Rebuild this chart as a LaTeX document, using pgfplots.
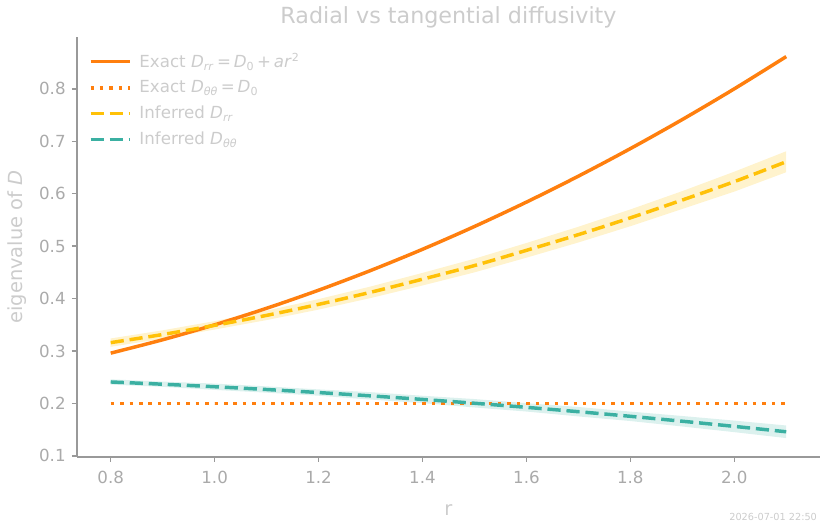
\documentclass[border=0pt]{standalone}
\usepackage{fontspec}
\setmainfont{DejaVu Sans}
\usepackage{pgfplots}
\usepackage{pgfplotstable}
\pgfplotsset{compat=1.18}
\usepgfplotslibrary{fillbetween}
\definecolor{corange}{HTML}{FF7F0E}
\definecolor{cyellow}{HTML}{FFC107}
\definecolor{cteal}{HTML}{3BB0A2}
\definecolor{clight}{HTML}{CCCCCC}
\definecolor{ctick}{HTML}{AAAAAA}
\definecolor{cspine}{HTML}{999999}

\pgfplotstableread{
r exact d0 inf inflo infhi tea tealo teahi
0.8 0.296  0.2 0.316  0.308  0.324  0.2410 0.2360 0.2460
0.9 0.3215 0.2 0.3315 0.3235 0.3395 0.2367 0.2317 0.2417
1.0 0.350  0.2 0.349  0.341  0.357  0.2319 0.2259 0.2379
1.1 0.3815 0.2 0.368  0.359  0.377  0.2266 0.2206 0.2326
1.2 0.416  0.2 0.389  0.379  0.399  0.2208 0.2148 0.2268
1.3 0.4535 0.2 0.412  0.401  0.423  0.2145 0.2075 0.2215
1.4 0.494  0.2 0.437  0.425  0.449  0.2077 0.2007 0.2147
1.5 0.5375 0.2 0.463  0.450  0.476  0.2004 0.1924 0.2084
1.6 0.584  0.2 0.492  0.478  0.506  0.1926 0.1846 0.2006
1.7 0.6335 0.2 0.522  0.507  0.537  0.1843 0.1753 0.1933
1.8 0.686  0.2 0.554  0.538  0.570  0.1755 0.1665 0.1845
1.9 0.7415 0.2 0.588  0.571  0.605  0.1661 0.1561 0.1761
2.0 0.800  0.2 0.623  0.604  0.642  0.1563 0.1453 0.1673
2.1 0.8615 0.2 0.661  0.641  0.681  0.1460 0.1340 0.1580
}\data

\begin{document}
\begin{tikzpicture}
\begin{axis}[
  name=ax,
  scale only axis,
  width=535pt, height=302.4pt,
  xmin=0.735, xmax=2.165,
  ymin=0.098, ymax=0.899,
  axis x line*=bottom, axis y line*=left,
  axis line style={cspine, line width=1.2pt},
  xtick={0.8,1.0,...,2.0},
  ytick={0.1,0.2,...,0.8},
  xticklabels={0.8,1.0,1.2,1.4,1.6,1.8,2.0},
  yticklabels={0.1,0.2,0.3,0.4,0.5,0.6,0.7,0.8},
  tick align=outside,
  major tick length=3.6pt,
  tick style={cspine, line width=1pt},
  ticklabel style={font=\fontsize{12}{14}\selectfont, text=ctick},
  /pgf/number format/assume math mode=true,
  xticklabel style={yshift=-3pt},
  yticklabel style={xshift=-1pt},
  xlabel={r},
  ylabel={eigenvalue of \textit{D}},
  label style={font=\fontsize{14}{16}\selectfont, text=clight},
  xlabel style={yshift=-8pt},
  ylabel style={yshift=2pt},
  title={Radial vs tangential diffusivity},
  title style={font=\fontsize{16}{19}\selectfont, text=clight, yshift=-3.5pt},
  legend cell align=left,
  legend style={at={(0.01,0.975)}, anchor=north west, draw=none, fill=none,
    font=\fontsize{12}{14}\selectfont, text=clight, row sep=4pt,
    /tikz/every odd column/.append style={column sep=3.5pt}},
  legend image code/.code={\draw[#1] (0cm,0cm) -- (1.0cm,0cm);},
  clip=false,
]
\addplot[name path=infhi, draw=none, forget plot] table[x=r, y=infhi] {\data};
\addplot[name path=inflo, draw=none, forget plot] table[x=r, y=inflo] {\data};
\addplot[cyellow, fill=cyellow, fill opacity=0.2, draw opacity=0.25, line width=0.7pt, forget plot] fill between[of=infhi and inflo];
\addplot[name path=teahi, draw=none, forget plot] table[x=r, y=teahi] {\data};
\addplot[name path=tealo, draw=none, forget plot] table[x=r, y=tealo] {\data};
\addplot[cteal, fill=cteal, fill opacity=0.18, draw opacity=0.22, line width=0.7pt, forget plot] fill between[of=teahi and tealo];

\addplot[corange, line width=2.5pt, smooth] table[x=r, y=exact] {\data};
\addlegendentry{Exact \textit{D}\textsubscript{\textit{rr}}\,=\,\textit{D}\textsubscript{0}\,+\,\textit{ar}\textsuperscript{2}}
\addplot[corange, line width=2.5pt, dash pattern=on 2.5pt off 4.3pt] table[x=r, y=d0] {\data};
\addlegendentry{Exact \textit{D}\textsubscript{\textit{θθ}}\,=\,\textit{D}\textsubscript{0}}
\addplot[cyellow, line width=2.5pt, smooth, dash pattern=on 9.5pt off 4.2pt] table[x=r, y=inf] {\data};
\addlegendentry{Inferred \textit{D}\textsubscript{\textit{rr}}}
\addplot[cteal, line width=2.5pt, smooth, dash pattern=on 9.5pt off 4.2pt] table[x=r, y=tea] {\data};
\addlegendentry{Inferred \textit{D}\textsubscript{\textit{θθ}}}
\end{axis}
\path ([xshift=-55.4pt,yshift=-49pt]ax.south west) rectangle ([xshift=3.6pt,yshift=26.6pt]ax.north east);
\node[anchor=east, font=\fontsize{7}{8}\selectfont, text=clight, inner sep=0pt] at ([xshift=-2pt,yshift=-43pt]ax.south east) {2026-07-01 22:50};
\end{tikzpicture}
\end{document}
